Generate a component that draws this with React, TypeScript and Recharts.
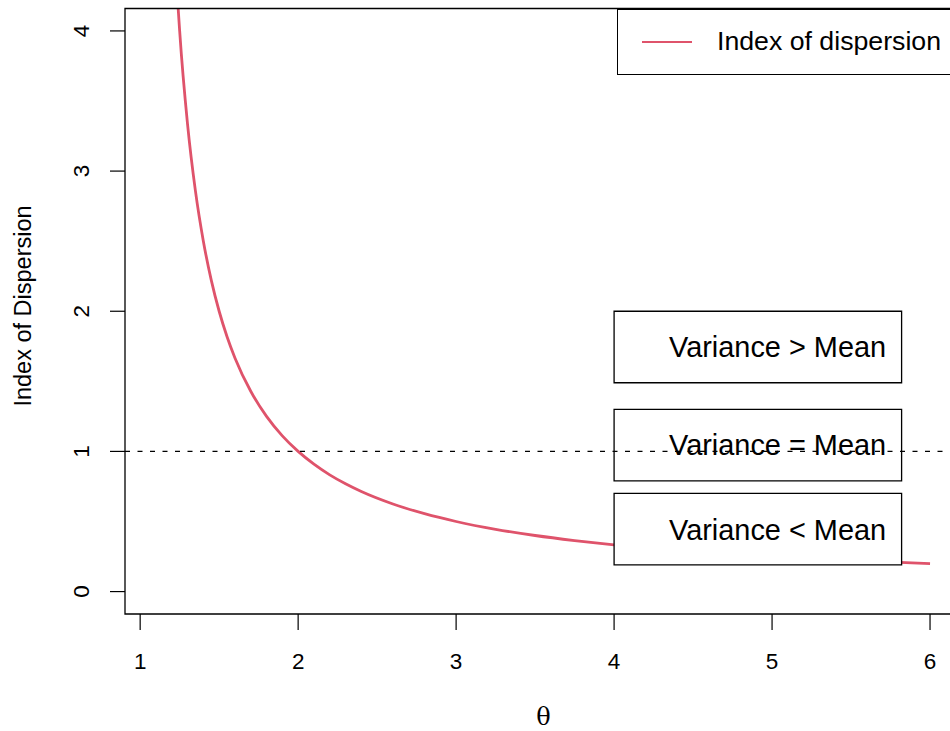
import { LineChart, Line, XAxis, YAxis, ReferenceArea, ReferenceLine } from 'recharts'

// values
const THETA = [1.1, 1.15, 1.2, 1.25, 1.3, 1.35, 1.4, 1.45, 1.5, 1.55, 1.6, 1.7, 1.8, 1.9, 2.0, 2.1, 2.2, 2.3, 2.4, 2.6, 2.8, 3.0, 3.25, 3.5, 3.75, 4.0, 4.5, 5.0, 5.5, 6.0]
const DISPERSION = [10, 6.667, 5, 4, 3.333, 2.857, 2.5, 2.222, 2, 1.818, 1.667, 1.429, 1.25, 1.111, 1, 0.909, 0.833, 0.769, 0.714, 0.625, 0.556, 0.5, 0.444, 0.4, 0.364, 0.333, 0.286, 0.25, 0.222, 0.2]

const X_TICKS = [1, 2, 3, 4, 5, 6]
const Y_TICKS = [0, 1, 2, 3, 4]

const BOX_LABELS = ['Variance > Mean', 'Variance = Mean', 'Variance < Mean']
const BOX_TOPS = [2, 1.3, 0.7]
const BOX_BOTTOMS = [1.49, 0.79, 0.19]
const BOX_LEFT = 4
const BOX_RIGHT = 5.82

const X_DOMAIN: [number, number] = [0.904, 6.196]
const Y_DOMAIN: [number, number] = [-0.16, 4.16]

const LINE_COLOR = '#DF536B'
const FONT = '"Liberation Sans", Arial, Helvetica, sans-serif'

const data = THETA.map((t, i) => ({ theta: t, value: DISPERSION[i] }))

const YTick = ({ y, payload }: any) => (
  <text x={89} y={y} transform={`rotate(-90, 89, ${y})`} textAnchor="middle" fill="#000" style={{ fontSize: 22.5, fontFamily: FONT }}>
    {payload.value}
  </text>
)

const XTick = ({ x, payload }: any) => (
  <text x={x} y={669} textAnchor="middle" fill="#000" style={{ fontSize: 22.5, fontFamily: FONT }}>
    {payload.value}
  </text>
)

const BoxLabel = ({ viewBox, text }: any) => {
  if (!viewBox) return null
  const { x, y, width, height } = viewBox
  return (
    <text x={x + width - 15.5} y={y + height / 2 + 10.3} textAnchor="end" fill="#000" style={{ fontSize: 28.9, fontFamily: FONT }}>
      {text}
    </text>
  )
}

export default function App() {
  return (
    <div style={{ position: 'absolute', left: 0, top: 0, width: 950, height: 731, overflow: 'hidden', background: '#fff' }}>
      <LineChart width={1000} height={731} data={data} margin={{ top: 8.5, right: 39, bottom: 0, left: 0 }}>
        <XAxis
          dataKey="theta"
          type="number"
          domain={X_DOMAIN}
          ticks={X_TICKS}
          allowDataOverflow
          height={117}
          axisLine={false}
          tickSize={16}
          tickLine={{ stroke: '#000', strokeWidth: 1.2 }}
          tick={<XTick />}
          label={{
            content: () => (
              <text x={543.5} y={724.5} textAnchor="middle" fill="#000" style={{ fontSize: 24, fontFamily: '"DejaVu Serif", "Liberation Serif", serif' }}>
                θ
              </text>
            ),
          }}
        />
        <YAxis
          type="number"
          domain={Y_DOMAIN}
          ticks={Y_TICKS}
          allowDataOverflow
          width={125}
          axisLine={false}
          tickSize={15}
          tickLine={{ stroke: '#000', strokeWidth: 1.2 }}
          tick={<YTick />}
          label={{
            content: () => (
              <text x={31} y={306} transform="rotate(-90, 31, 306)" textAnchor="middle" fill="#000" style={{ fontSize: 23.5, fontFamily: FONT }}>
                Index of Dispersion
              </text>
            ),
          }}
        />
        <Line
          dataKey="value"
          type="monotone"
          stroke={LINE_COLOR}
          strokeWidth={2.8}
          dot={false}
          activeDot={false}
          isAnimationActive={false}
        />
        {BOX_LABELS.map((txt, i) => (
          <ReferenceArea
            key={txt}
            x1={BOX_LEFT}
            x2={BOX_RIGHT}
            y1={BOX_BOTTOMS[i]}
            y2={BOX_TOPS[i]}
            fill="#fff"
            fillOpacity={1}
            stroke="#000"
            strokeWidth={1.3}
            ifOverflow="visible"
            zIndex={1500}
            label={<BoxLabel text={txt} />}
          />
        ))}
        <ReferenceLine y={1} stroke="#000" strokeWidth={1.1} strokeDasharray="5 7.5" zIndex={1600} />
        <ReferenceArea
          x1={X_DOMAIN[0]}
          x2={X_DOMAIN[1]}
          y1={Y_DOMAIN[0]}
          y2={Y_DOMAIN[1]}
          fill="none"
          stroke="#000"
          strokeWidth={1.3}
          ifOverflow="visible"
          zIndex={1700}
        />
      </LineChart>
      <div style={{ position: 'absolute', left: 617, top: 8.5, width: 344, height: 66, boxSizing: 'border-box', border: '1.4px solid #000', background: '#fff', display: 'flex', alignItems: 'center', fontFamily: FONT }}>
        <div style={{ marginLeft: 24, width: 50, height: 2, background: LINE_COLOR }} />
        <span style={{ marginLeft: 25, fontSize: 26.7, color: '#000', whiteSpace: 'nowrap' }}>Index of dispersion</span>
      </div>
    </div>
  )
}
